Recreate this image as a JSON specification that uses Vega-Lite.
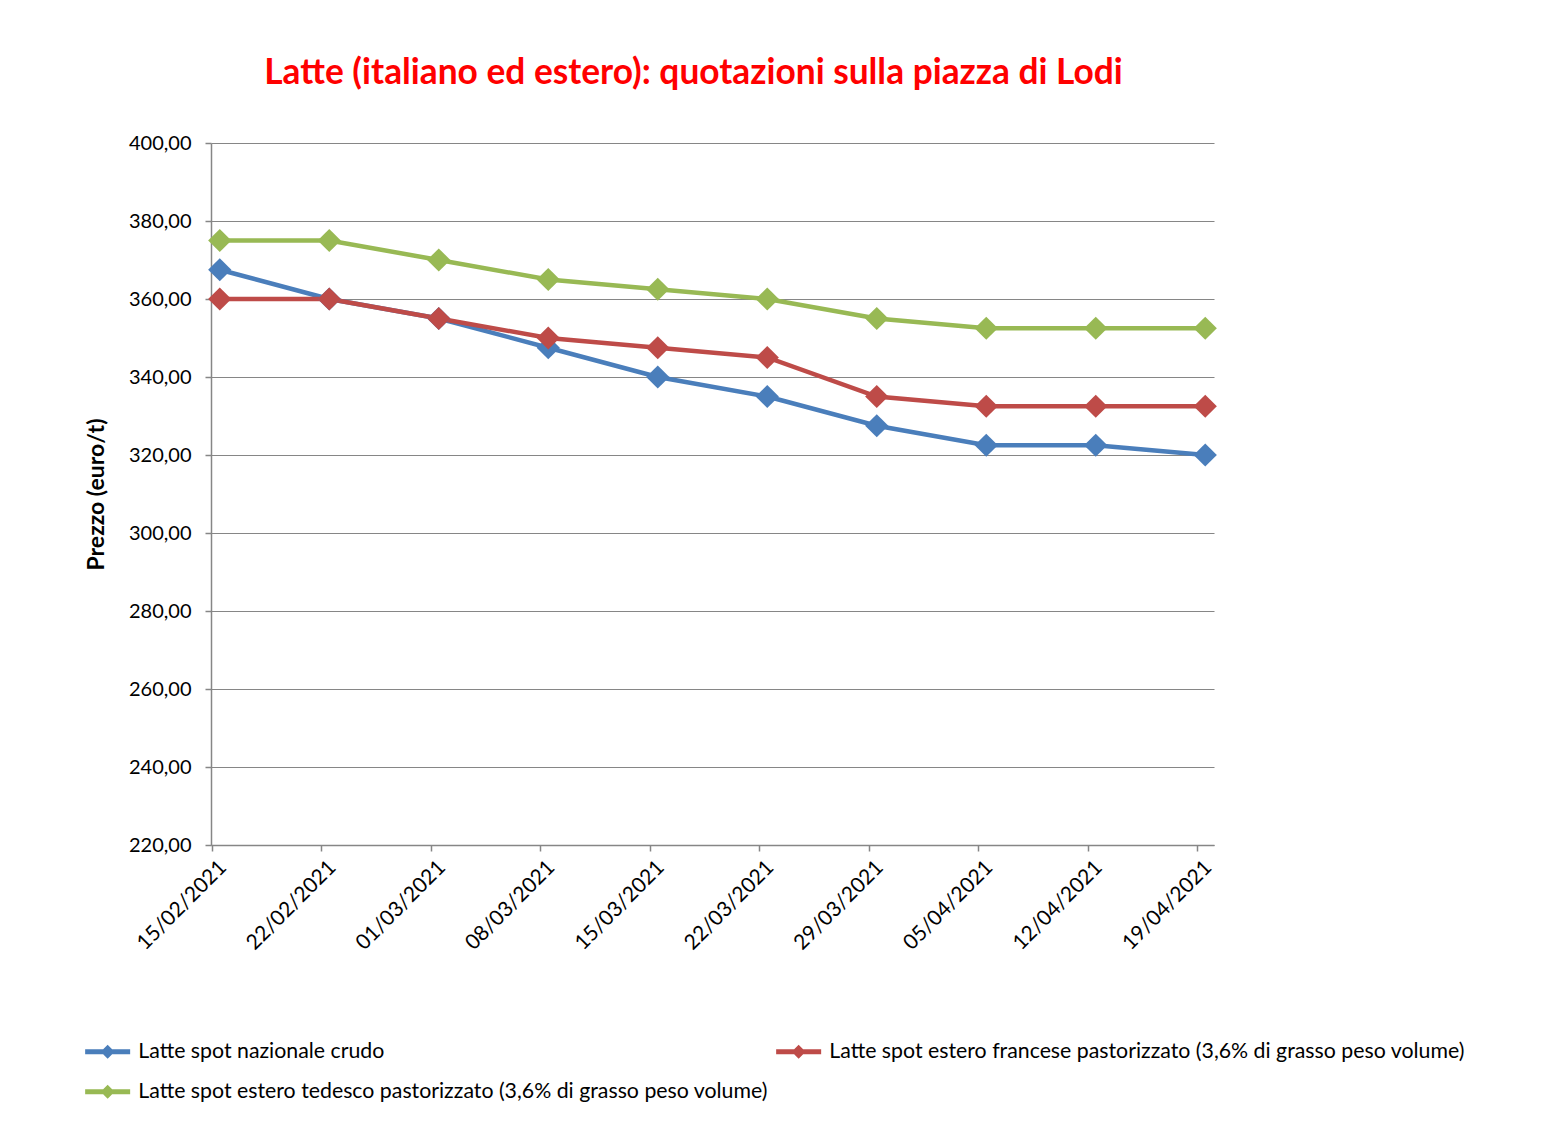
{
  "$schema": "https://vega.github.io/schema/vega-lite/v6.json",
  "width": 1003,
  "height": 702,
  "autosize": {"type": "none"},
  "padding": {"left": 211, "top": 143, "right": 334, "bottom": 277},
  "background": "white",
  "title": {
    "text": "Latte (italiano ed estero): quotazioni sulla piazza di Lodi",
    "color": "#FF0000",
    "font": "Lato",
    "fontSize": 35.3,
    "fontWeight": "bold",
    "anchor": "middle",
    "dx": -19,
    "offset": 42
  },
  "data": {
    "values": [
      {"data": "15/02/2021", "serie": "Latte spot nazionale crudo", "prezzo": 367.5},
      {"data": "22/02/2021", "serie": "Latte spot nazionale crudo", "prezzo": 360},
      {"data": "01/03/2021", "serie": "Latte spot nazionale crudo", "prezzo": 355},
      {"data": "08/03/2021", "serie": "Latte spot nazionale crudo", "prezzo": 347.5},
      {"data": "15/03/2021", "serie": "Latte spot nazionale crudo", "prezzo": 340},
      {"data": "22/03/2021", "serie": "Latte spot nazionale crudo", "prezzo": 335},
      {"data": "29/03/2021", "serie": "Latte spot nazionale crudo", "prezzo": 327.5},
      {"data": "05/04/2021", "serie": "Latte spot nazionale crudo", "prezzo": 322.5},
      {"data": "12/04/2021", "serie": "Latte spot nazionale crudo", "prezzo": 322.5},
      {"data": "19/04/2021", "serie": "Latte spot nazionale crudo", "prezzo": 320},
      {"data": "15/02/2021", "serie": "Latte spot estero francese pastorizzato (3,6% di grasso peso volume)", "prezzo": 360},
      {"data": "22/02/2021", "serie": "Latte spot estero francese pastorizzato (3,6% di grasso peso volume)", "prezzo": 360},
      {"data": "01/03/2021", "serie": "Latte spot estero francese pastorizzato (3,6% di grasso peso volume)", "prezzo": 355},
      {"data": "08/03/2021", "serie": "Latte spot estero francese pastorizzato (3,6% di grasso peso volume)", "prezzo": 350},
      {"data": "15/03/2021", "serie": "Latte spot estero francese pastorizzato (3,6% di grasso peso volume)", "prezzo": 347.5},
      {"data": "22/03/2021", "serie": "Latte spot estero francese pastorizzato (3,6% di grasso peso volume)", "prezzo": 345},
      {"data": "29/03/2021", "serie": "Latte spot estero francese pastorizzato (3,6% di grasso peso volume)", "prezzo": 335},
      {"data": "05/04/2021", "serie": "Latte spot estero francese pastorizzato (3,6% di grasso peso volume)", "prezzo": 332.5},
      {"data": "12/04/2021", "serie": "Latte spot estero francese pastorizzato (3,6% di grasso peso volume)", "prezzo": 332.5},
      {"data": "19/04/2021", "serie": "Latte spot estero francese pastorizzato (3,6% di grasso peso volume)", "prezzo": 332.5},
      {"data": "15/02/2021", "serie": "Latte spot estero tedesco pastorizzato (3,6% di grasso peso volume)", "prezzo": 375},
      {"data": "22/02/2021", "serie": "Latte spot estero tedesco pastorizzato (3,6% di grasso peso volume)", "prezzo": 375},
      {"data": "01/03/2021", "serie": "Latte spot estero tedesco pastorizzato (3,6% di grasso peso volume)", "prezzo": 370},
      {"data": "08/03/2021", "serie": "Latte spot estero tedesco pastorizzato (3,6% di grasso peso volume)", "prezzo": 365},
      {"data": "15/03/2021", "serie": "Latte spot estero tedesco pastorizzato (3,6% di grasso peso volume)", "prezzo": 362.5},
      {"data": "22/03/2021", "serie": "Latte spot estero tedesco pastorizzato (3,6% di grasso peso volume)", "prezzo": 360},
      {"data": "29/03/2021", "serie": "Latte spot estero tedesco pastorizzato (3,6% di grasso peso volume)", "prezzo": 355},
      {"data": "05/04/2021", "serie": "Latte spot estero tedesco pastorizzato (3,6% di grasso peso volume)", "prezzo": 352.5},
      {"data": "12/04/2021", "serie": "Latte spot estero tedesco pastorizzato (3,6% di grasso peso volume)", "prezzo": 352.5},
      {"data": "19/04/2021", "serie": "Latte spot estero tedesco pastorizzato (3,6% di grasso peso volume)", "prezzo": 352.5}
    ]
  },
  "encoding": {
    "x": {
      "field": "data",
      "type": "ordinal",
      "sort": null,
      "scale": {"type": "point", "padding": 0.08},
      "axis": {
        "title": null,
        "labelAngle": -45,
        "labelAlign": "right",
        "labelBaseline": "middle",
        "labelFont": "Lato",
        "labelFontSize": 21,
        "labelColor": "#000000",
        "labelPadding": 13,
        "labelOffset": 11,
        "tickOffset": -8,
        "tickSize": 6,
        "tickColor": "#868686",
        "tickWidth": 1.5,
        "domainColor": "#868686",
        "domainWidth": 1.5,
        "grid": false
      }
    },
    "y": {
      "field": "prezzo",
      "type": "quantitative",
      "scale": {"domain": [220, 400], "nice": false, "zero": false},
      "axis": {
        "title": "Prezzo (euro/t)",
        "titleFont": "Lato",
        "titleFontSize": 23,
        "titleFontWeight": "bold",
        "titleColor": "#000000",
        "titlePadding": 20,
        "values": [220, 240, 260, 280, 300, 320, 340, 360, 380, 400],
        "labelExpr": "replace(format(datum.value, '.2f'), '.', ',')",
        "labelFont": "Lato",
        "labelFontSize": 20,
        "labelColor": "#000000",
        "labelPadding": 14,
        "tickSize": 6,
        "tickColor": "#868686",
        "tickWidth": 1.5,
        "domainColor": "#868686",
        "domainWidth": 1.5,
        "grid": true,
        "gridColor": "#868686",
        "gridWidth": 1.2
      }
    },
    "color": {
      "field": "serie",
      "type": "nominal",
      "scale": {
        "domain": [
          "Latte spot nazionale crudo",
          "Latte spot estero francese pastorizzato (3,6% di grasso peso volume)",
          "Latte spot estero tedesco pastorizzato (3,6% di grasso peso volume)"
        ],
        "range": ["#4A7EBB", "#BE4B48", "#98B954"]
      },
      "legend": {
        "title": null,
        "orient": "none",
        "legendX": -114,
        "legendY": 898,
        "direction": "horizontal",
        "columns": 2,
        "columnPadding": 8,
        "rowPadding": 18,
        "padding": 0,
        "symbolType": "M-2.25,-0.25L-0.45,-0.25L0,-0.7L0.45,-0.25L2.25,-0.25L2.25,0.25L0.45,0.25L0,0.7L-0.45,0.25L-2.25,0.25Z",
        "symbolSize": 400,
        "symbolStrokeWidth": 0,
        "symbolOpacity": 1,
        "labelOffset": 20,
        "labelFont": "Lato",
        "labelFontSize": 21.3,
        "labelColor": "#000000",
        "labelLimit": 900
      }
    }
  },
  "layer": [
    {"mark": {"type": "line", "strokeWidth": 4.5}},
    {"mark": {"type": "point", "shape": "diamond", "filled": true, "size": 540, "opacity": 1}}
  ],
  "config": {"view": {"stroke": null}}
}
